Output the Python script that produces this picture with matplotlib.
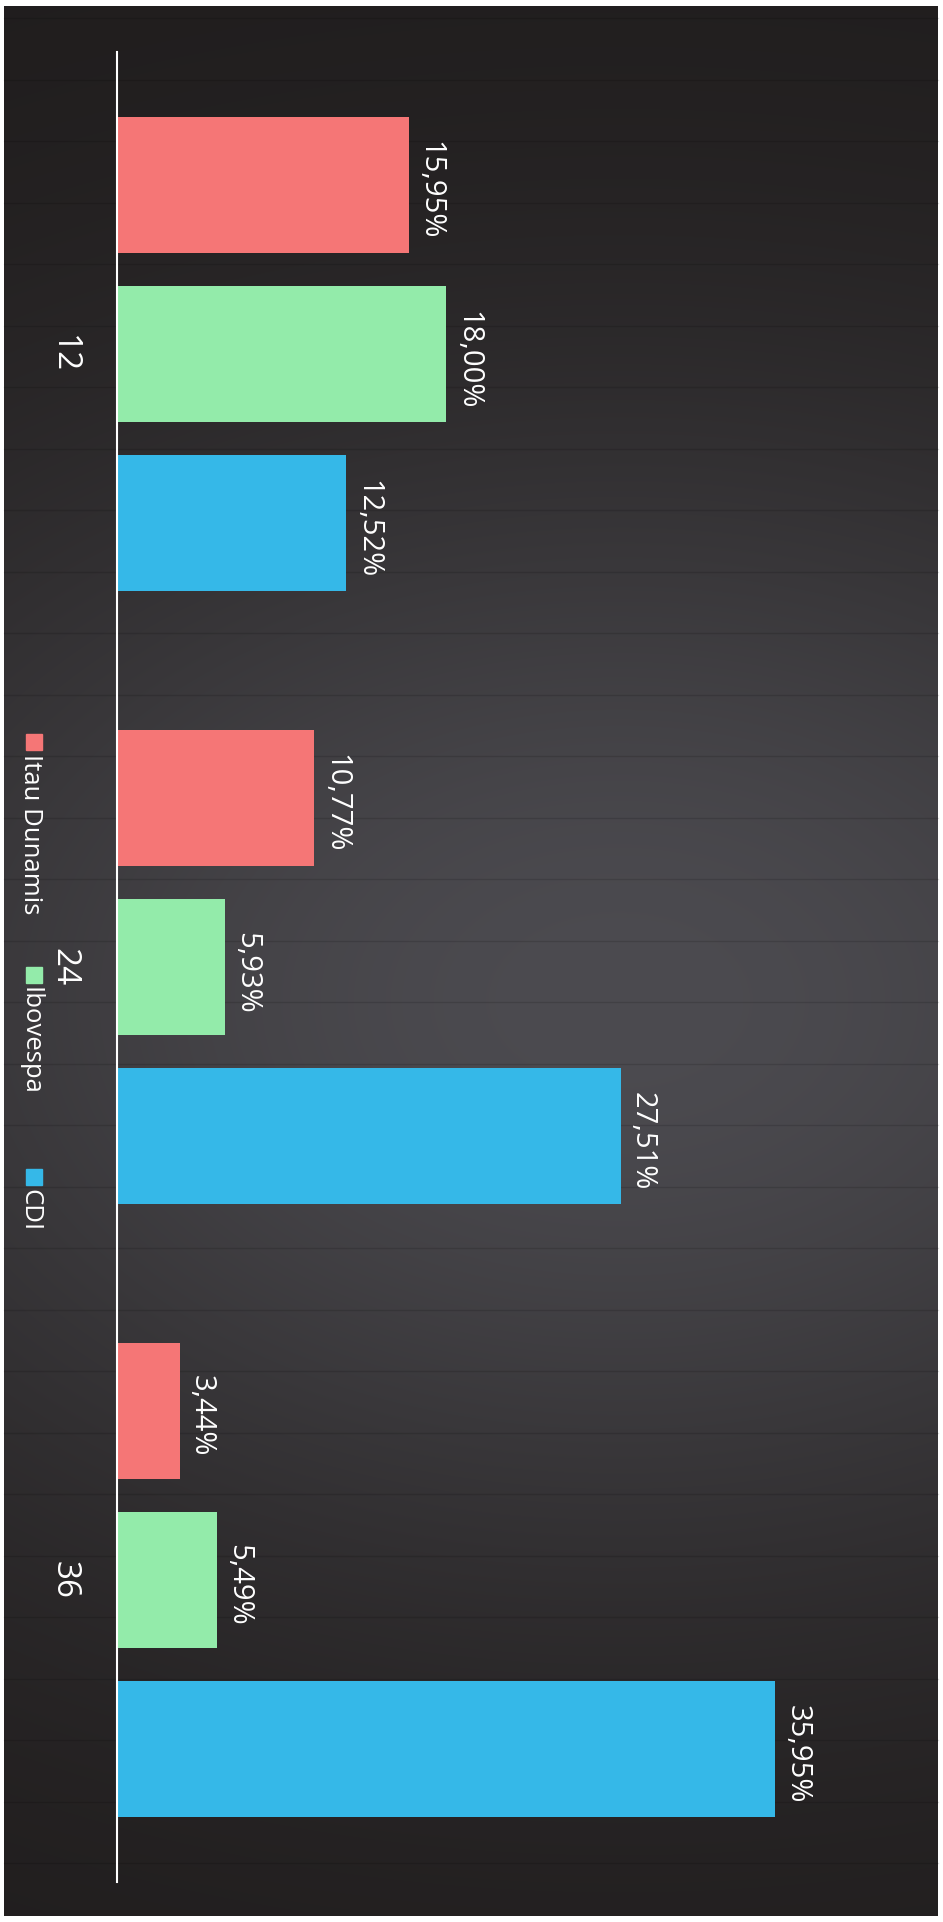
import numpy as np
import matplotlib.pyplot as plt
from matplotlib.patches import Rectangle

# Rentabilidade acumulada por prazo (meses)
prazos = ['12', '24', '36']
series = ['Itau Dunamis', 'Ibovespa', 'CDI']
itau = [15.95, 10.77, 3.44]
ibov = [18.00, 5.93, 5.49]
cdi = [12.52, 27.51, 35.95]
cores = ['#f57676', '#93ebaa', '#35b8e8']

plt.rcParams['font.family'] = ['Open Sans', 'DejaVu Sans']

W, H = 943, 1922
fig = plt.figure(figsize=(W / 100, H / 100), dpi=100, facecolor='white')

# fundo escuro com centro mais claro
bg = fig.add_axes([0, 0, 1, 1])
bg.set_xlim(0, W)
bg.set_ylim(H, 0)
bg.axis('off')
yy, xx = np.mgrid[0:H:4, 0:W:4]
luz = np.exp(-((yy - 1000) / 600.0) ** 2 - ((xx - 620) / 900.0) ** 2)
escuro = np.array([0x1f, 0x1c, 0x1c]) / 255
claro = np.array([0x4c, 0x4b, 0x50]) / 255
img = escuro + (claro - escuro) * luz[..., None]
bg.imshow(img, extent=(4, 938, 1916, 6), aspect='auto', interpolation='bilinear')
for y in np.arange(18, 1910, 61.5):
    bg.plot([4, 938], [y, y], color='black', lw=1.0, alpha=0.13)

# grafico de barras (deitado)
left = 116.5 / W
bottom = 1 - 1882.5 / H
ax = fig.add_axes([left, bottom, 44 * 18.33 / W, (1882.5 - 51.5) / H])
ax.set_facecolor('none')

pos = np.arange(len(prazos))
larg = 0.222
passo = 0.276
for i, (nome, vals) in enumerate(zip(series, [itau, ibov, cdi])):
    y = pos + (i - 1) * passo
    barras = ax.barh(y, vals, height=larg, color=cores[i], label=nome)
    for b, v in zip(barras, vals):
        ax.annotate(f'{v:.2f}%'.replace('.', ','),
                    (v, b.get_y() + b.get_height() / 2),
                    xytext=(5, -4), textcoords='offset points',
                    rotation=-90, ha='left', va='center',
                    color='white', fontsize=21)

ax.set_xlim(0, 44)
ax.set_ylim(2.494, -0.494)
ax.set_xticks([])
ax.set_yticks(pos, labels=prazos, rotation=-90, ha='center', va='center',
              color='white', fontsize=24)
ax.tick_params(axis='y', length=0, pad=38)
for s in ['top', 'right', 'bottom']:
    ax.spines[s].set_visible(False)
ax.spines['left'].set_color('white')
ax.spines['left'].set_linewidth(1.5)

# legenda vertical
inicio = [742, 975, 1177]
for nome, cor, y0 in zip(series, cores, inicio):
    fig.patches.append(Rectangle(((34 - 8) / W, 1 - (y0 + 8) / H), 16 / W, 16 / H,
                                 transform=fig.transFigure, color=cor))
    fig.text(30 / W, 1 - (y0 + 12) / H, nome, rotation=-90, ha='center', va='top',
             color='white', fontsize=18.5)

fig.savefig('out.png', dpi=100, facecolor='white')
